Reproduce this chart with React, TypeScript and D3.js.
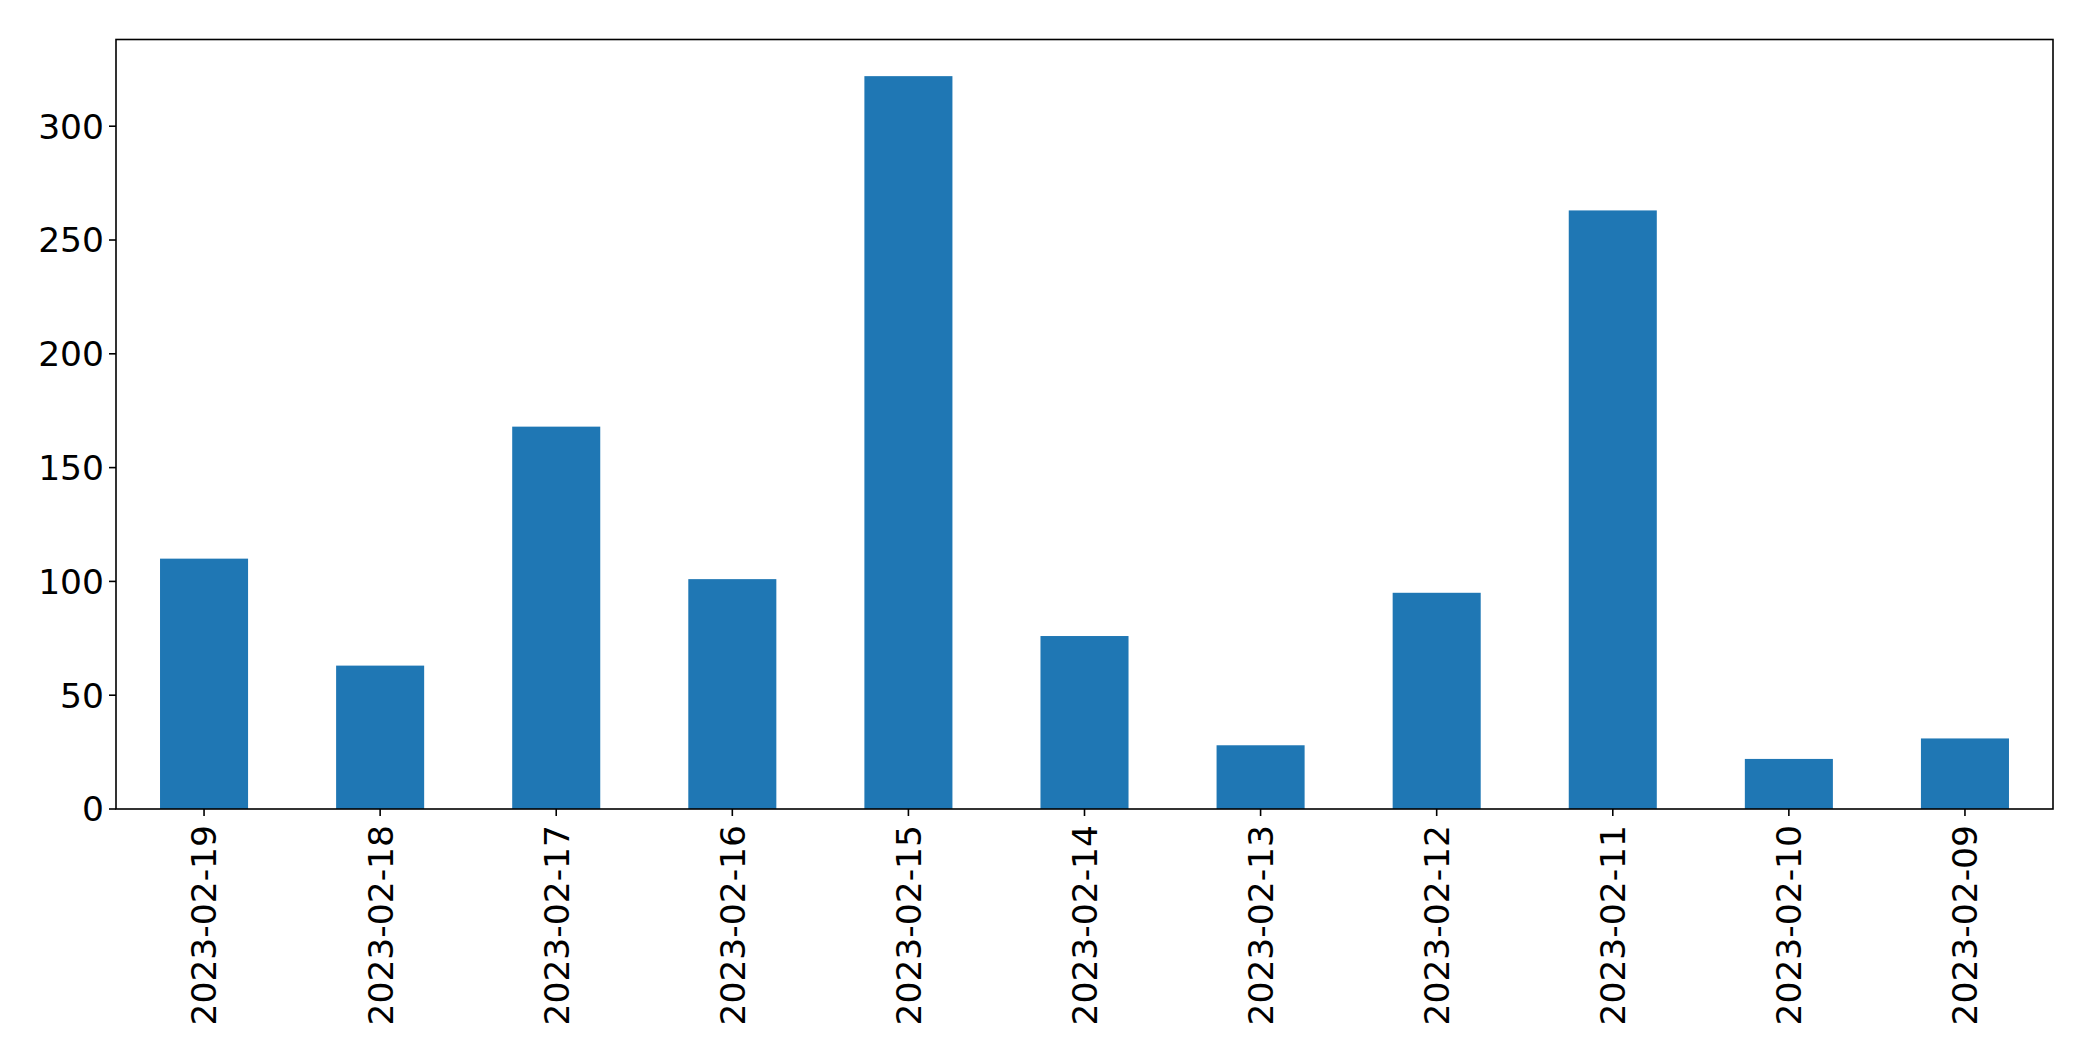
import React from "react";
import * as d3 from "d3";

const categories = [
  "2023-02-19", "2023-02-18", "2023-02-17", "2023-02-16", "2023-02-15", "2023-02-14",
  "2023-02-13", "2023-02-12", "2023-02-11", "2023-02-10", "2023-02-09",
];
const values = [110, 63, 168, 101, 322, 76, 28, 95, 263, 22, 31];
const yTicks = [0, 50, 100, 150, 200, 250, 300];

const W = 2093;
const H = 1061;
const M = { left: 116, right: 2053, top: 39.5, bottom: 809 };

export default function App() {
  const x = d3.scaleBand<string>().domain(categories).range([M.left, M.right]).paddingInner(0.5).paddingOuter(0.25);
  const yMax = (d3.max(values) as number) * 1.05;
  const y = d3.scaleLinear().domain([0, yMax]).range([M.bottom, M.top]);
  const font = "'DejaVu Sans', sans-serif";
  const fs = 34.5;
  return (
    <svg width={W} height={H} style={{ position: "absolute", left: 0, top: 0, background: "#fff" }}>
      <rect x={0} y={0} width={W} height={H} fill="#fff" />
      {categories.map((c, i) => (
        <rect key={c} x={x(c)} y={y(values[i])} width={x.bandwidth()} height={y(0) - y(values[i])} fill="#1f77b4" />
      ))}
      <rect x={M.left} y={M.top} width={M.right - M.left} height={M.bottom - M.top} fill="none" stroke="#000" strokeWidth={1.6} />
      {yTicks.map((t) => (
        <g key={t}>
          <line x1={M.left - 7} x2={M.left} y1={y(t)} y2={y(t)} stroke="#000" strokeWidth={1.6} />
          <text x={M.left - 12} y={y(t)} dy="0.36em" textAnchor="end" fontFamily={font} fontSize={fs} fill="#000">
            {t}
          </text>
        </g>
      ))}
      {categories.map((c) => {
        const cx = (x(c) as number) + x.bandwidth() / 2;
        return (
          <g key={c}>
            <line x1={cx} x2={cx} y1={M.bottom} y2={M.bottom + 7} stroke="#000" strokeWidth={1.6} />
            <text
              transform={`translate(${cx},${M.bottom + 16}) rotate(-90)`}
              dy="0.36em"
              textAnchor="end"
              fontFamily={font}
              fontSize={fs}
              fill="#000"
            >
              {c}
            </text>
          </g>
        );
      })}
    </svg>
  );
}
